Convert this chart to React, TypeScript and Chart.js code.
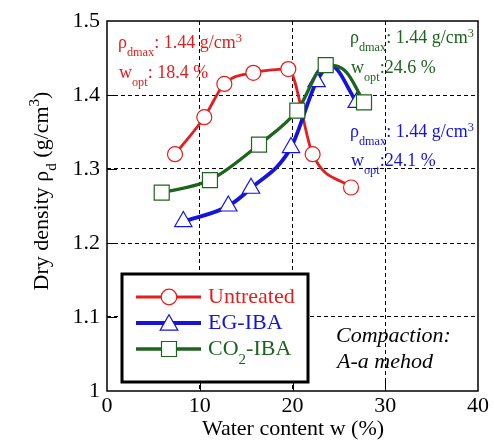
import React, { useEffect, useRef } from 'react';
import { Chart, registerables } from 'chart.js';

Chart.register(...registerables);

// ---- data ----
const untreatedW = [7.33, 10.49, 12.65, 15.78, 19.55, 22.17, 26.31];
const untreatedRho = [1.32, 1.37, 1.415, 1.43, 1.435, 1.32, 1.275];

const egW = [8.23, 13.08, 15.53, 19.84, 22.6, 24.1, 26.92];
const egRho = [1.229, 1.25, 1.274, 1.329, 1.418, 1.44, 1.39];
const egMarker = [true, true, true, true, true, false, true];

const co2W = [5.9, 11.1, 16.39, 20.52, 23.58, 25.8, 27.71];
const co2Rho = [1.268, 1.285, 1.333, 1.379, 1.4405, 1.431, 1.39];
const co2Marker = [true, true, true, true, true, false, true];

const xTicks = [0, 10, 20, 30, 40];
const xTickLabels = ['0', '10', '20', '30', '40'];
const yTicks = [1, 1.1, 1.2, 1.3, 1.4, 1.5];
const yTickLabels = ['1', '1.1', '1.2', '1.3', '1.4', '1.5'];

const seriesNames = ['Untreated', 'EG-IBA', 'CO2-IBA'];

const RED = '#e41e1e';
const BLUE = '#1414dc';
const GREEN = '#1e641e';
const FAM = "'Liberation Serif', 'Times New Roman', serif";

type Seg = { t: string; k?: 'sub' | 'sup' };

function drawRich(
  ctx: CanvasRenderingContext2D,
  segs: Seg[],
  x: number,
  y: number,
  size: number,
  color: string,
  opts: { italic?: boolean; align?: 'left' | 'center'; subSize?: number; subDy?: number; supDy?: number } = {}
) {
  const subSize = opts.subSize ?? size * 0.68;
  const font = (s: number) => `${opts.italic ? 'italic ' : ''}${s}px ${FAM}`;
  let w = 0;
  for (const s of segs) {
    ctx.font = font(s.k ? subSize : size);
    w += ctx.measureText(s.t).width;
  }
  let cx = opts.align === 'center' ? x - w / 2 : x;
  ctx.textAlign = 'left';
  ctx.textBaseline = 'alphabetic';
  ctx.fillStyle = color;
  for (const s of segs) {
    ctx.font = font(s.k ? subSize : size);
    const dy = s.k === 'sub' ? (opts.subDy ?? size * 0.42) : s.k === 'sup' ? (opts.supDy ?? -size * 0.36) : 0;
    ctx.fillText(s.t, cx, y + dy);
    cx += ctx.measureText(s.t).width;
  }
}

function marker(ctx: CanvasRenderingContext2D, style: string, x: number, y: number, r: number, color: string, lw: number) {
  ctx.save();
  ctx.beginPath();
  if (style === 'circle') {
    ctx.arc(x, y, r, 0, Math.PI * 2);
  } else if (style === 'triangle') {
    const a0 = 0;
    for (let i = 0; i < 3; i++) {
      const a = a0 + (i * 2 * Math.PI) / 3;
      const px = x + Math.sin(a) * r;
      const py = y - Math.cos(a) * r;
      if (i === 0) ctx.moveTo(px, py);
      else ctx.lineTo(px, py);
    }
    ctx.closePath();
  } else {
    const s = r * Math.SQRT1_2;
    ctx.rect(x - s, y - s, 2 * s, 2 * s);
  }
  ctx.fillStyle = '#ffffff';
  ctx.fill();
  ctx.lineWidth = lw;
  ctx.strokeStyle = color;
  ctx.stroke();
  ctx.restore();
}

const overlayPlugin = {
  id: 'overlay',
  afterDraw(chart: any) {
    const ctx: CanvasRenderingContext2D = chart.ctx;
    const { left, right, top, bottom } = chart.chartArea;
    const xs = chart.scales.x;
    const ys = chart.scales.y;
    ctx.save();

    // inward solid ticks
    ctx.strokeStyle = '#000';
    ctx.lineWidth = 1;
    ctx.setLineDash([]);
    for (const v of xTicks.slice(1, -1)) {
      const px = Math.round(xs.getPixelForValue(v)) + 0.5;
      ctx.beginPath();
      ctx.moveTo(px, bottom);
      ctx.lineTo(px, bottom - 11);
      ctx.stroke();
    }
    for (const v of yTicks.slice(1, -1)) {
      const py = Math.round(ys.getPixelForValue(v)) + 0.5;
      ctx.beginPath();
      ctx.moveTo(left, py);
      ctx.lineTo(left + 10, py);
      ctx.stroke();
    }

    // frame
    ctx.lineWidth = 1.5;
    ctx.strokeRect(left, top, right - left, bottom - top);

    // annotations
    drawRich(ctx, [{ t: 'ρ' }, { t: 'dmax', k: 'sub' }, { t: ': 1.44 g/cm' }, { t: '3', k: 'sup' }], 118, 48, 18, RED);
    drawRich(ctx, [{ t: 'w' }, { t: 'opt', k: 'sub' }, { t: ': 18.4 %' }], 119, 78, 18, RED);

    drawRich(ctx, [{ t: 'ρ' }, { t: 'dmax', k: 'sub' }, { t: ': 1.44 g/cm' }, { t: '3', k: 'sup' }], 350, 43, 18, GREEN);
    drawRich(ctx, [{ t: 'w' }, { t: 'opt', k: 'sub' }, { t: ':24.6 %' }], 351, 73, 18, GREEN);

    drawRich(ctx, [{ t: 'ρ' }, { t: 'dmax', k: 'sub' }, { t: ': 1.44 g/cm' }, { t: '3', k: 'sup' }], 350, 137, 18, BLUE);
    drawRich(ctx, [{ t: 'w' }, { t: 'opt', k: 'sub' }, { t: ':24.1 %' }], 351, 166, 18, BLUE);

    // compaction note
    drawRich(ctx, [{ t: 'Compaction:' }], 336, 342, 22, '#000', { italic: true });
    drawRich(ctx, [{ t: 'A-a mehod' }], 337, 368, 22, '#000', { italic: true });

    // legend
    const lx0 = 122, ly0 = 274, lx1 = 308, ly1 = 382;
    ctx.fillStyle = '#fff';
    ctx.fillRect(lx0, ly0, lx1 - lx0, ly1 - ly0);
    ctx.lineWidth = 3;
    ctx.strokeStyle = '#000';
    ctx.strokeRect(lx0, ly0, lx1 - lx0, ly1 - ly0);
    const entries = [
      { color: RED, lw: 2.8, style: 'circle', r: 7.8, y: 297, segs: [{ t: seriesNames[0] }] as Seg[] },
      { color: BLUE, lw: 3.8, style: 'triangle', r: 10.2, y: 323, segs: [{ t: seriesNames[1] }] as Seg[] },
      { color: GREEN, lw: 3.3, style: 'rect', r: 10.6, y: 349, segs: [{ t: 'CO' }, { t: '2', k: 'sub' }, { t: '-IBA' }] as Seg[] },
    ];
    for (const e of entries) {
      ctx.beginPath();
      ctx.strokeStyle = e.color;
      ctx.lineWidth = e.lw;
      ctx.moveTo(136, e.y);
      ctx.lineTo(201, e.y);
      ctx.stroke();
      marker(ctx, e.style, 169, e.style === 'triangle' ? e.y + 2 : e.y, e.r, e.color, 1.2);
      drawRich(ctx, e.segs, 208, e.y + 6, 22, e.color, { subSize: 15, subDy: 9 });
    }

    // axis titles
    drawRich(ctx, [{ t: 'Water content w (%)' }], 293, 435, 22, '#000', { align: 'center' });
    ctx.save();
    ctx.translate(48, 191);
    ctx.rotate(-Math.PI / 2);
    drawRich(ctx, [{ t: 'Dry density ρ' }, { t: 'd', k: 'sub' }, { t: ' (g/cm' }, { t: '3', k: 'sup' }, { t: ')' }], 0, 0, 22, '#000', { align: 'center', subSize: 15, subDy: 8, supDy: -9 });
    ctx.restore();

    ctx.restore();
  },
};

export default function App() {
  const ref = useRef<HTMLCanvasElement | null>(null);

  useEffect(() => {
    if (!ref.current) return;
    const mk = (ws: number[], rs: number[]) => ws.map((w, i) => ({ x: w, y: rs[i] }));
    const gridColor = (edgeVals: number[]) => (c: any) =>
      c.tick && edgeVals.some((v) => Math.abs(v - c.tick.value) < 1e-9) ? 'rgba(0,0,0,0)' : '#000';

    const chart = new Chart(ref.current, {
      type: 'line',
      data: {
        datasets: [
          {
            label: seriesNames[0],
            data: mk(untreatedW, untreatedRho),
            borderColor: RED,
            borderWidth: 2.8,
            pointStyle: 'circle',
            pointRadius: 7.5,
            pointBorderWidth: 1.2,
            pointBackgroundColor: '#fff',
            pointBorderColor: RED,
            cubicInterpolationMode: 'monotone',
            order: 2,
          },
          {
            label: seriesNames[1],
            data: mk(egW, egRho),
            borderColor: BLUE,
            borderWidth: 3.8,
            pointStyle: 'triangle',
            pointRadius: egMarker.map((m) => (m ? 10 : 0)),
            pointBorderWidth: 1.2,
            pointBackgroundColor: '#fff',
            pointBorderColor: BLUE,
            cubicInterpolationMode: 'monotone',
            order: 1,
          },
          {
            label: seriesNames[2],
            data: mk(co2W, co2Rho),
            borderColor: GREEN,
            borderWidth: 3.3,
            pointStyle: 'rect',
            pointRadius: co2Marker.map((m) => (m ? 10.6 : 0)),
            pointBorderWidth: 1.2,
            pointBackgroundColor: '#fff',
            pointBorderColor: GREEN,
            cubicInterpolationMode: 'monotone',
            order: 0,
          },
        ],
      } as any,
      options: {
        animation: false,
        responsive: false,
        devicePixelRatio: 1,
        layout: { padding: { top: 21, right: 16, left: 0, bottom: 0 } },
        plugins: { legend: { display: false }, tooltip: { enabled: false } },
        scales: {
          x: {
            type: 'linear',
            min: 0,
            max: 40,
            afterBuildTicks: (s: any) => {
              s.ticks = xTicks.map((v) => ({ value: v }));
            },
            afterFit: (s: any) => {
              s.height = 55;
            },
            ticks: {
              font: { family: FAM, size: 22 },
              color: '#000',
              padding: 2,
              maxRotation: 0,
              autoSkip: false,
              callback: (v: any) => {
                const i = xTicks.findIndex((t) => Math.abs(t - Number(v)) < 1e-9);
                return i >= 0 ? xTickLabels[i] : '';
              },
            },
            grid: { color: gridColor([0, 40]), lineWidth: 1, drawTicks: false },
            border: { display: false, dash: [4, 3] },
          },
          y: {
            type: 'linear',
            min: 1,
            max: 1.5,
            afterBuildTicks: (s: any) => {
              s.ticks = yTicks.map((v) => ({ value: v }));
            },
            afterFit: (s: any) => {
              s.width = 107;
            },
            ticks: {
              font: { family: FAM, size: 22 },
              color: '#000',
              padding: 7,
              autoSkip: false,
              callback: (v: any) => {
                const i = yTicks.findIndex((t) => Math.abs(t - Number(v)) < 1e-9);
                return i >= 0 ? yTickLabels[i] : '';
              },
            },
            grid: { color: gridColor([1, 1.5]), lineWidth: 1, drawTicks: false },
            border: { display: false, dash: [4, 3] },
          },
        },
      } as any,
      plugins: [overlayPlugin],
    });
    return () => chart.destroy();
  }, []);

  return (
    <div style={{ position: 'absolute', left: 0, top: 0, width: 494, height: 446, background: '#fff' }}>
      <canvas ref={ref} width={494} height={446} style={{ width: 494, height: 446, display: 'block' }} />
    </div>
  );
}
